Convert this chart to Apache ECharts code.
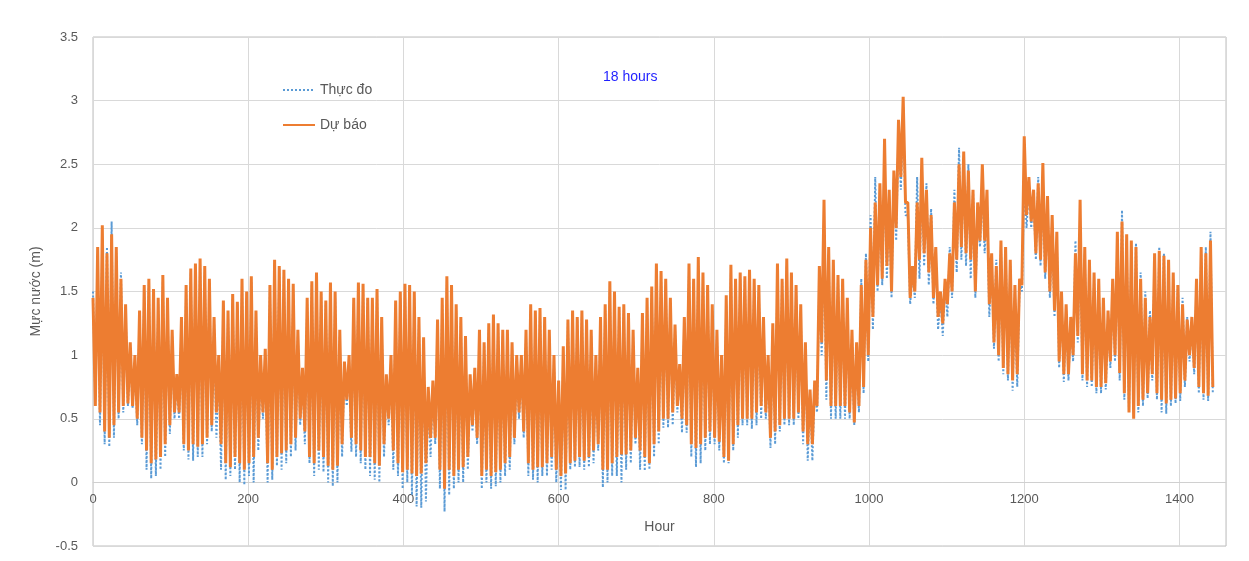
<!DOCTYPE html>
<html>
<head>
<meta charset="utf-8">
<script src="https://cdn.jsdelivr.net/npm/echarts@6/dist/echarts.min.js"></script>
<style>html,body{margin:0;padding:0;background:#fff;}#c{width:1249px;height:561px;}</style>
</head>
<body>
<div id="c"></div>
<script>
// Hours between successive tidal extremes (high at 6k, low at 6k+3)
const stepHours = 6;
const seriesNames = ['Thực đo', 'Dự báo'];
const xTicks = [0, 200, 400, 600, 800, 1000, 1200, 1400];
const yTicks = [-0.5, 0, 0.5, 1, 1.5, 2, 2.5, 3, 3.5];

// Dự báo (forecast) – successive high waters
const fcHigh = [
 1.45,1.85,2.02,1.8,1.95,1.85,1.6,1.4,1.1,
 1.0,1.35,1.55,1.6,1.52,1.45,1.63,1.45,1.2,0.85,
 1.3,1.55,1.68,1.72,1.76,1.7,1.6,1.3,1.0,
 1.43,1.35,1.48,1.42,1.6,1.5,1.62,1.35,1.0,
 1.05,1.55,1.75,1.7,1.67,1.6,1.56,1.2,0.9,
 1.45,1.58,1.65,1.5,1.43,1.57,1.5,1.2,0.95,
 1.0,1.45,1.57,1.56,1.45,1.45,1.52,1.3,0.85,
 1.0,1.43,1.5,1.56,1.55,1.5,1.3,1.14,0.75,
 0.8,1.28,1.45,1.62,1.55,1.4,1.3,1.15,0.85,
 0.9,1.2,1.1,1.25,1.32,1.25,1.2,1.2,1.1,1.0,
 1.0,1.2,1.4,1.35,1.37,1.3,1.2,1.0,0.8,
 1.07,1.28,1.35,1.3,1.35,1.28,1.2,1.0,1.3,
 1.4,1.58,1.5,1.38,1.4,1.33,1.2,0.9,
 1.33,1.45,1.54,1.72,1.66,1.6,1.45,1.24,0.93,
 1.3,1.72,1.6,1.77,1.65,1.55,1.4,1.2,1.0,
 1.47,1.71,1.6,1.65,1.62,1.67,1.6,1.55,1.3,1.0,
 1.25,1.72,1.6,1.76,1.65,1.55,1.4,1.1,0.73,
 0.8,1.7,2.22,1.85,1.75,1.63,1.6,1.45,1.2,1.1,
 1.55,1.75,2.0,2.2,2.35,2.7,2.3,2.45,2.85,3.03,
 2.2,1.7,2.2,2.55,2.3,2.1,1.85,1.5,1.6,
 1.8,2.2,2.5,2.6,2.45,2.3,2.2,2.5,2.3,
 1.8,1.7,1.9,1.85,1.75,1.55,1.6,2.72,
 2.4,2.3,2.35,2.51,2.25,2.1,1.97,1.5,1.4,1.3,
 1.8,2.22,1.85,1.75,1.65,1.6,1.45,1.35,
 1.6,1.97,2.05,1.95,1.9,1.85,1.6,1.45,1.3,
 1.8,1.82,1.78,1.75,1.65,1.55,1.4,1.28,1.3,
 1.6,1.85,1.8,1.9
];
// Dự báo (forecast) – successive low waters
const fcLow = [
 0.6,0.55,0.4,0.35,0.45,0.55,0.6,0.62,0.6,
 0.5,0.35,0.25,0.15,0.18,0.2,0.3,0.45,0.55,0.55,
 0.3,0.25,0.3,0.28,0.3,0.35,0.45,0.55,0.3,
 0.15,0.12,0.2,0.15,0.1,0.15,0.2,0.35,0.55,
 0.15,0.1,0.2,0.23,0.25,0.3,0.35,0.5,0.4,
 0.2,0.15,0.25,0.2,0.13,0.1,0.13,0.3,0.65,
 0.35,0.3,0.25,0.2,0.2,0.15,0.13,0.3,0.5,
 0.25,0.15,0.08,0.1,0.07,0.05,0.07,0.15,0.35,
 0.35,0.1,-0.05,0.1,0.05,0.1,0.12,0.2,0.45,
 0.35,0.05,0.1,0.05,0.08,0.1,0.15,0.2,0.35,0.55,
 0.4,0.15,0.1,0.12,0.12,0.15,0.2,0.1,0.05,
 0.07,0.15,0.17,0.2,0.17,0.2,0.25,0.3,0.1,
 0.1,0.15,0.2,0.22,0.22,0.25,0.35,0.25,
 0.2,0.15,0.3,0.4,0.5,0.5,0.55,0.6,0.5,
 0.45,0.3,0.27,0.3,0.35,0.4,0.35,0.32,0.2,
 0.17,0.3,0.45,0.5,0.5,0.5,0.55,0.6,0.55,0.35,
 0.4,0.45,0.5,0.5,0.5,0.55,0.4,0.3,0.3,
 0.6,1.1,0.8,0.6,0.6,0.6,0.6,0.55,0.47,0.6,
 0.75,1.0,1.3,1.55,1.6,1.7,1.5,2.0,2.4,2.2,
 1.45,1.5,1.75,1.8,1.65,1.45,1.3,1.25,1.4,
 1.5,1.75,1.85,1.8,1.75,1.5,1.9,1.9,1.4,
 1.1,1.0,0.9,0.85,0.8,0.85,1.55,2.1,
 2.05,1.8,1.75,1.65,1.5,1.35,0.95,0.85,0.85,1.0,
 1.15,0.85,0.8,0.8,0.75,0.75,0.78,0.95,
 1.0,0.86,0.7,0.55,0.5,0.6,0.65,0.7,0.85,
 0.7,0.65,0.62,0.65,0.66,0.7,0.8,1.0,0.9,
 0.75,0.7,0.68,0.75
];
// Thực đo (observed) – successive high waters
const obsHigh = [
 1.5,1.75,1.9,1.85,2.05,1.8,1.65,1.35,1.05,
 0.95,1.3,1.5,1.55,1.5,1.4,1.58,1.4,1.15,0.8,
 1.25,1.5,1.65,1.7,1.72,1.65,1.55,1.25,0.95,
 1.4,1.3,1.45,1.4,1.55,1.45,1.58,1.3,0.95,
 1.0,1.5,1.72,1.68,1.62,1.55,1.5,1.15,0.85,
 1.4,1.55,1.6,1.48,1.4,1.52,1.45,1.15,0.9,
 0.95,1.4,1.55,1.52,1.45,1.4,1.48,1.25,0.8,
 0.95,1.4,1.45,1.52,1.5,1.45,1.25,1.1,0.7,
 0.75,1.25,1.4,1.55,1.5,1.35,1.25,1.1,0.8,
 0.85,1.15,1.08,1.2,1.28,1.2,1.15,1.15,1.05,0.95,
 0.95,1.15,1.35,1.3,1.32,1.25,1.15,0.95,0.75,
 1.0,1.25,1.3,1.28,1.3,1.25,1.15,0.95,1.25,
 1.35,1.5,1.45,1.35,1.35,1.3,1.15,0.85,
 1.3,1.4,1.5,1.65,1.6,1.55,1.4,1.2,0.9,
 1.25,1.65,1.58,1.7,1.6,1.5,1.35,1.15,0.95,
 1.4,1.65,1.55,1.6,1.58,1.6,1.55,1.5,1.25,0.95,
 1.2,1.65,1.58,1.7,1.6,1.5,1.35,1.05,0.7,
 0.75,1.6,2.05,1.8,1.7,1.6,1.55,1.4,1.15,1.05,
 1.6,1.8,2.1,2.4,2.3,2.45,2.2,2.4,2.8,2.95,
 2.1,1.65,2.4,2.4,2.35,2.15,1.8,1.45,1.55,
 1.85,2.3,2.63,2.55,2.5,2.3,2.1,2.35,2.2,
 1.75,1.75,1.85,1.85,1.7,1.5,1.55,2.4,
 2.35,2.25,2.4,2.3,2.2,2.0,1.9,1.45,1.35,1.3,
 1.9,2.0,1.8,1.7,1.6,1.55,1.4,1.3,
 1.55,1.9,2.14,1.9,1.85,1.88,1.65,1.5,1.35,
 1.75,1.85,1.8,1.7,1.6,1.55,1.45,1.3,1.25,
 1.55,1.8,1.85,1.97
];
// Thực đo (observed) – successive low waters
const obsLow = [
 0.65,0.45,0.3,0.28,0.35,0.5,0.55,0.6,0.58,
 0.45,0.3,0.1,0.03,0.05,0.1,0.2,0.38,0.5,0.5,
 0.25,0.18,0.17,0.2,0.2,0.3,0.4,0.35,0.1,
 0.02,0.05,0.1,0.0,-0.02,0.05,0.0,0.25,0.5,
 0.0,0.02,0.13,0.1,0.15,0.2,0.25,0.45,0.3,
 0.15,0.05,0.1,0.08,0.0,-0.03,0.0,0.2,0.6,
 0.24,0.2,0.15,0.1,0.05,0.02,0.0,0.2,0.45,
 0.1,0.05,-0.05,0.0,-0.1,-0.19,-0.2,-0.15,0.2,
 0.3,-0.05,-0.23,-0.1,-0.05,0.0,0.0,0.1,0.4,
 0.3,-0.05,0.0,-0.05,-0.03,0.0,0.05,0.1,0.3,0.5,
 0.35,0.05,0.02,0.0,0.05,0.05,0.1,0.0,-0.06,
 -0.06,0.1,0.12,0.12,0.1,0.12,0.15,0.25,-0.04,
 0.0,0.05,0.05,0.0,0.1,0.15,0.3,0.1,
 0.09,0.1,0.2,0.3,0.43,0.43,0.45,0.55,0.39,
 0.39,0.2,0.12,0.15,0.25,0.3,0.3,0.25,0.15,
 0.15,0.25,0.35,0.45,0.45,0.42,0.45,0.5,0.5,0.27,
 0.3,0.4,0.45,0.45,0.45,0.5,0.3,0.17,0.17,
 0.55,1.0,0.65,0.5,0.5,0.5,0.5,0.5,0.45,0.55,
 0.7,0.95,1.2,1.5,1.55,1.6,1.45,1.9,2.3,2.1,
 1.4,1.45,1.6,1.7,1.55,1.4,1.2,1.15,1.3,
 1.45,1.65,1.75,1.7,1.6,1.45,1.85,1.8,1.3,
 1.05,0.95,0.85,0.8,0.72,0.75,1.5,2.0,
 2.0,1.75,1.7,1.6,1.45,1.3,0.9,0.79,0.8,0.95,
 1.1,0.8,0.75,0.75,0.7,0.7,0.73,0.9,
 0.95,0.8,0.65,0.55,0.55,0.55,0.6,0.66,0.8,
 0.65,0.55,0.54,0.6,0.62,0.64,0.75,0.95,0.85,
 0.7,0.65,0.64,0.7
];

function zigzag(highs, lows) {
  const out = [];
  for (let i = 0; i < highs.length; i++) {
    out.push([i * stepHours, highs[i]]);
    if (i < lows.length) out.push([i * stepHours + stepHours / 2, lows[i]]);
  }
  return out;
}

const FONT = "'Liberation Sans', Arial, sans-serif";
const GRID_TOP = 37, GRID_BOTTOM = 15, H = 561;
// pixel distance from the bottom of the plot (y = -0.5) up to y = 0
const plotH = H - GRID_TOP - GRID_BOTTOM;
const zeroOffset = plotH * (0 - yTicks[0]) / (yTicks[yTicks.length - 1] - yTicks[0]);

const chart = echarts.init(document.getElementById('c'), null, {renderer: 'canvas'});
chart.setOption({
  animation: false,
  backgroundColor: '#ffffff',
  title: {
    text: '18 hours', left: 598, top: 65,
    textStyle: {color: '#1f1fff', fontSize: 14, fontWeight: 'normal', fontFamily: FONT}
  },
  legend: {
    data: seriesNames, orient: 'vertical', left: 277, top: 78,
    itemWidth: 32, itemHeight: 12, itemGap: 21,
    itemStyle: {opacity: 0},
    textStyle: {color: '#595959', fontSize: 14, fontFamily: FONT}
  },
  grid: {left: 93, right: 23, top: GRID_TOP, bottom: GRID_BOTTOM, outerBoundsMode: 'none', containLabel: false,
    show: true, borderColor: '#bfbfbf', borderWidth: 1, backgroundColor: 'transparent'},
  xAxis: {
    type: 'value', min: 0, max: 1460, interval: 200,
    offset: -zeroOffset,
    name: 'Hour', nameLocation: 'middle', nameGap: 38,
    nameTextStyle: {color: '#595959', fontSize: 14, fontFamily: FONT},
    axisLine: {onZero: false, lineStyle: {color: '#d0d0d0'}},
    axisTick: {show: false},
    axisLabel: {color: '#595959', fontSize: 13, fontFamily: FONT, margin: 11, showMaxLabel: false,
      formatter: v => xTicks.indexOf(v) >= 0 ? String(v) : ''},
    splitLine: {show: true, lineStyle: {color: '#d9d9d9'}}
  },
  yAxis: {
    type: 'value', min: yTicks[0], max: yTicks[yTicks.length - 1], interval: 0.5,
    name: 'Mực nước (m)', nameLocation: 'middle', nameGap: 50,
    nameTextStyle: {color: '#595959', fontSize: 14, fontFamily: FONT},
    axisLine: {show: false, onZero: false}, axisTick: {show: false},
    axisLabel: {color: '#595959', fontSize: 13, fontFamily: FONT, margin: 15},
    splitLine: {show: true, lineStyle: {color: '#d9d9d9'}}
  },
  series: [
    {
      name: seriesNames[0], type: 'line', data: zigzag(obsHigh, obsLow),
      symbol: 'none', z: 2,
      lineStyle: {color: '#5b9bd5', width: 2, type: [2, 2]},
      itemStyle: {color: '#5b9bd5'}
    },
    {
      name: seriesNames[1], type: 'line', data: zigzag(fcHigh, fcLow),
      symbol: 'none', z: 3,
      lineStyle: {color: '#ed7d31', width: 3},
      itemStyle: {color: '#ed7d31'}
    }
  ]
});
</script>
</body>
</html>
